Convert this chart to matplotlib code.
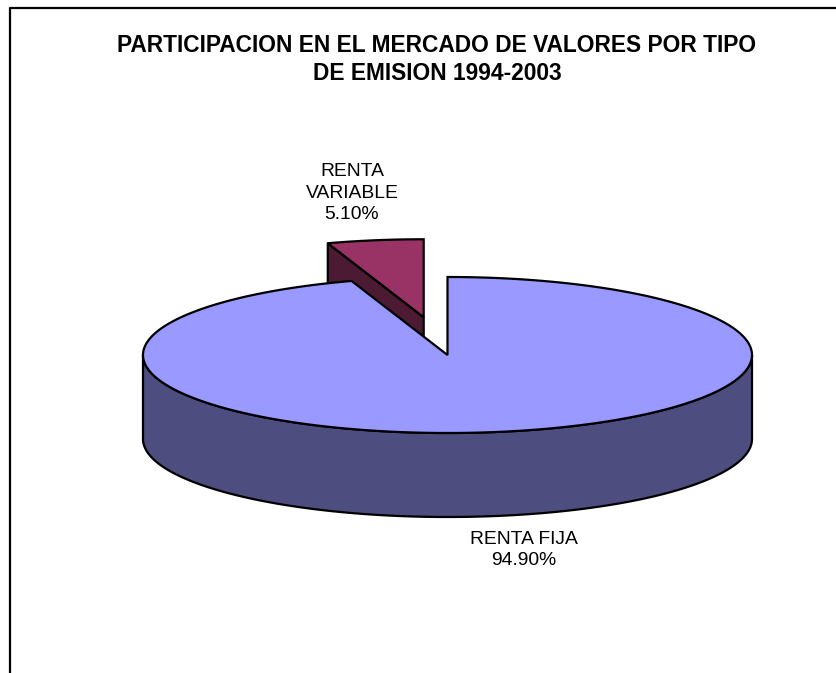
import numpy as np
import matplotlib
matplotlib.use("Agg")
import matplotlib.pyplot as plt
from matplotlib.patches import Polygon

# Data
labels = ["RENTA FIJA", "RENTA VARIABLE"]
shares = [94.9, 5.1]
label_text = ["RENTA FIJA\n94.90%", "RENTA\nVARIABLE\n5.10%"]
top_colors = ["#9999FF", "#993366"]
side_colors = ["#4D4D80", "#4D1A33"]
explode = [0.0, 0.49]

# Geometry of the 3D pie (pixel units)
cx, cy = 447.5, 355.0
rx, ry = 304.5, 78.0
depth = 84.0

fig = plt.figure(figsize=(8.37, 6.73), dpi=100)
ax = fig.add_axes([0, 0, 1, 1])
ax.set_xlim(0, 837)
ax.set_ylim(673, 0)
ax.axis("off")

# chart area frame (only top and left edges visible)
ax.plot([10, 10, 900], [700, 8, 8], color="black", lw=1.6, zorder=1)

# slices start at 12 o'clock and run clockwise
total = sum(shares)
angles = []
start = 90.0
for s in shares:
    end = start - 360.0 * s / total
    angles.append((end, start))  # counterclockwise range
    start = end


def rim(theta_deg, ox, oy, dz=0.0):
    t = np.radians(theta_deg)
    return np.column_stack([ox + rx * np.cos(t), oy - ry * np.sin(t) + dz])


lw = 1.6
# draw the back slice (variable) first, then the big one
order = [1, 0]
for z, i in enumerate(order):
    a0, a1 = angles[i]
    mid = np.radians((a0 + a1) / 2)
    ox = cx + explode[i] * rx * np.cos(mid)
    oy = cy - explode[i] * ry * np.sin(mid)
    th = np.linspace(a0, a1, 400)
    base = 2 + z * 3

    # outer side, visible only on the front half (angles 180..360)
    front = []
    for k in range(-1, 2):
        f0 = max(a0, 180 + 360 * k)
        f1 = min(a1, 360 + 360 * k)
        if f1 > f0:
            front.append((f0, f1))
    for f0, f1 in front:
        tf = np.linspace(f0, f1, 400)
        up = rim(tf, ox, oy)
        dn = rim(tf[::-1], ox, oy, depth)
        ax.add_patch(Polygon(np.vstack([up, dn]), closed=True, fc=side_colors[i],
                             ec="black", lw=lw, joinstyle="round", zorder=base))

    # cut faces of the exploded slice that face the viewer
    for edge in (a0, a1):
        t = np.radians(edge)
        sgn = 1 if edge == a1 else -1
        ny = np.sin(t + sgn * np.pi / 2)
        if ny < 0 and explode[i] > 0:
            p = rim([edge], ox, oy)[0]
            quad = [(ox, oy), tuple(p), (p[0], p[1] + depth), (ox, oy + depth)]
            ax.add_patch(Polygon(quad, closed=True, fc=side_colors[i],
                                 ec="black", lw=lw, joinstyle="round", zorder=base + 1))

    # top face
    top = np.vstack([[ox, oy], rim(th, ox, oy)])
    ax.add_patch(Polygon(top, closed=True, fc=top_colors[i], ec="black",
                         lw=lw, joinstyle="miter", zorder=base + 2))

font = "Liberation Sans"
ax.text(437, 59.5, "PARTICIPACION EN EL MERCADO DE VALORES POR TIPO\nDE EMISION 1994-2003",
        ha="center", va="center", fontsize=16.4, fontweight="bold",
        family=font, linespacing=1.3, zorder=10)
ax.text(524, 550, label_text[0], ha="center", va="center", fontsize=13.9,
        family=font, linespacing=1.33, zorder=10)
ax.text(352, 193, label_text[1], ha="center", va="center", fontsize=13.9,
        family=font, linespacing=1.33, zorder=10)

fig.savefig("out.png", dpi=100, facecolor="white")
